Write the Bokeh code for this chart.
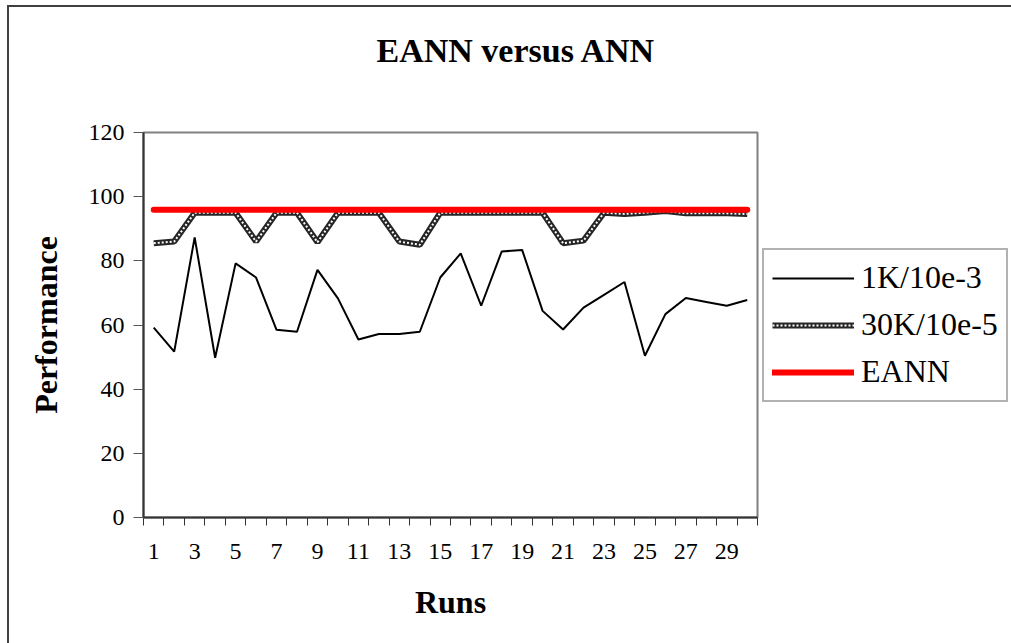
from bokeh.plotting import figure
from bokeh.models import (Range1d, FixedTicker, Legend, LegendItem, Title,
                          ColumnDataSource, InlineStyleSheet)
from bokeh.embed import file_html
from bokeh.resources import INLINE

# Performance per run for the two back-propagation settings and the evolved network
runs = list(range(1, 31))
perf_1k = [59.2, 51.7, 87.3, 49.8, 79.2, 74.8, 58.5, 57.9, 77.2, 68.3,
           55.5, 57.2, 57.2, 57.9, 74.8, 82.3, 66.0, 82.9, 83.4, 64.4,
           58.6, 65.4, 69.4, 73.4, 50.4, 63.4, 68.4, 67.2, 66.0, 67.8]
perf_30k = [85.5, 86.0, 95.0, 95.0, 95.0, 86.0, 95.0, 95.0, 85.8, 95.0,
            95.0, 95.0, 86.0, 85.0, 95.0, 95.0, 95.0, 95.0, 95.0, 95.0,
            85.5, 86.3, 95.0, 94.6, 95.0, 95.5, 94.8, 94.8, 94.8, 94.6]
perf_eann = [95.9, 95.9, 95.9, 95.9, 95.9, 95.9, 95.9, 95.9, 95.9, 95.9,
             95.9, 95.9, 95.9, 95.9, 95.9, 95.9, 95.9, 95.9, 95.9, 95.9,
             95.9, 95.9, 95.9, 95.9, 95.9, 95.9, 95.9, 95.9, 95.9, 95.9]
y_ticks = [0, 20, 40, 60, 80, 100, 120]
run_labels = [1, 3, 5, 7, 9, 11, 13, 15, 17, 19, 21, 23, 25, 27, 29]
run_bounds = [r - 0.5 for r in runs] + [30.5]

series_names = ["1K/10e-3", "30K/10e-5", "EANN"]

FONT = "Liberation Serif"

src = ColumnDataSource(dict(run=runs, k1=perf_1k, k30=perf_30k, eann=perf_eann))

p = figure(frame_width=614, frame_height=385, output_backend="svg",
           toolbar_location=None,
           x_range=Range1d(0.5, 30.5), y_range=Range1d(0, 120),
           min_border_left=143, min_border_right=0,
           min_border_top=132, min_border_bottom=126)

p.background_fill_color = "white"
p.border_fill_color = "white"
# chart border: a rule along the top edge and one along the left edge
p.stylesheets = [InlineStyleSheet(css="""
:host { position: relative; }
:host::after {
  content: "";
  position: absolute;
  left: 7px; top: 5px; right: 0; bottom: 0;
  border-top: 2px solid #404040;
  border-left: 2px solid #404040;
  pointer-events: none;
  z-index: 10;
}
""")]
p.outline_line_color = "#808080"
p.outline_line_width = 2
p.xgrid.visible = False
p.ygrid.visible = False

# x axis: ticks between runs, labels on every other run
xa = p.xaxis[0]
xa.ticker = FixedTicker(ticks=run_labels, minor_ticks=run_bounds)
xa.major_tick_out = 0
xa.major_tick_in = 0
xa.minor_tick_out = 8
xa.minor_tick_in = 0
xa.minor_tick_line_color = "#333333"
xa.axis_line_color = "#333333"
xa.axis_line_width = 2
xa.major_label_standoff = 18
xa.major_label_text_font = FONT
xa.major_label_text_font_size = "24px"
xa.major_label_text_color = "black"
xa.axis_label = "Runs"
xa.axis_label_text_font = FONT
xa.axis_label_text_font_size = "32px"
xa.axis_label_text_font_style = "bold"
xa.axis_label_text_color = "black"
xa.axis_label_standoff = 22

# y axis
ya = p.yaxis[0]
ya.ticker = FixedTicker(ticks=y_ticks, minor_ticks=[])
ya.major_tick_out = 10
ya.major_tick_in = 0
ya.major_tick_line_color = "#555555"
ya.axis_line_color = "#333333"
ya.axis_line_width = 2
ya.major_label_standoff = 9
ya.major_label_text_font = FONT
ya.major_label_text_font_size = "24px"
ya.major_label_text_color = "black"
ya.axis_label = "Performance"
ya.axis_label_text_font = FONT
ya.axis_label_text_font_size = "32px"
ya.axis_label_text_font_style = "bold"
ya.axis_label_text_color = "black"
ya.axis_label_standoff = 22

# series
r1 = p.line("run", "k1", source=src, line_color="black", line_width=2)
r30a = p.line("run", "k30", source=src, line_color="#262626", line_width=6)
r30b = p.line("run", "k30", source=src, line_color="white", line_width=2,
              line_dash="2 2")
re = p.line("run", "eann", source=src, line_color="#ff0000", line_width=6,
            line_cap="round")

legend = Legend(items=[
    LegendItem(label=series_names[0], renderers=[r1]),
    LegendItem(label=series_names[1], renderers=[r30a, r30b]),
    LegendItem(label=series_names[2], renderers=[re]),
], location="center_left")
legend.label_text_font = FONT
legend.label_text_font_size = "32px"
legend.label_text_color = "black"
legend.glyph_width = 82
legend.glyph_height = 40
legend.label_height = 40
legend.label_standoff = 7
legend.spacing = 7
legend.padding = 8
legend.margin = 5
legend.border_line_color = "#666666"
legend.border_line_width = 2
legend.background_fill_color = "white"
legend.background_fill_alpha = 1.0
p.add_layout(legend, "right")

# chart title, lifted above the plot area by an empty spacer
spacer = Title(text=" ", text_font_size="10px", standoff=50)
p.add_layout(spacer, "above")
title = Title(text="EANN versus ANN", text_font=FONT, text_font_size="34px",
              text_font_style="bold", text_color="black", align="left",
              offset=233, vertical_align="middle", standoff=0)
p.add_layout(title, "above")

open("out.html", "w").write(file_html(p, INLINE))
